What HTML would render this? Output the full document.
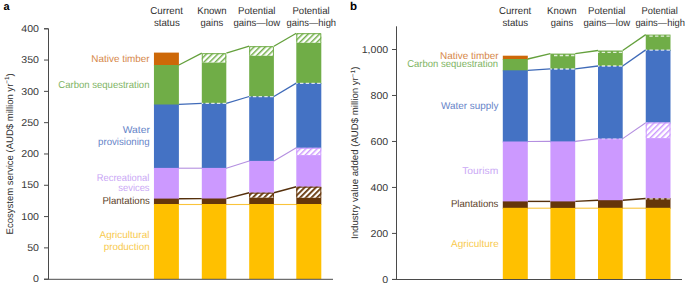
<!DOCTYPE html><html><head><meta charset="utf-8"><style>html,body{margin:0;padding:0;background:#fff;overflow:hidden}svg{display:block}text{font-family:"Liberation Sans",sans-serif;text-rendering:geometricPrecision}</style></head><body>
<svg width="685" height="285" viewBox="0 0 685 285">
<defs>
<pattern id="h1" patternUnits="userSpaceOnUse" width="4.0" height="4.0" patternTransform="rotate(45) translate(3.456,0)"><rect width="4.0" height="4.0" fill="#fff"/><rect width="1.45" height="4.0" fill="#70AD47"/></pattern>
<pattern id="h2" patternUnits="userSpaceOnUse" width="4.0" height="4.0" patternTransform="rotate(45) translate(0.094,0)"><rect width="4.0" height="4.0" fill="#fff"/><rect width="1.45" height="4.0" fill="#70AD47"/></pattern>
<pattern id="h3" patternUnits="userSpaceOnUse" width="4.0" height="4.0" patternTransform="rotate(45) translate(1.601,0)"><rect width="4.0" height="4.0" fill="#fff"/><rect width="1.8" height="4.0" fill="#66360A"/></pattern>
<pattern id="h4" patternUnits="userSpaceOnUse" width="4.0" height="4.0" patternTransform="rotate(45) translate(1.267,0)"><rect width="4.0" height="4.0" fill="#fff"/><rect width="1.45" height="4.0" fill="#70AD47"/></pattern>
<pattern id="h5" patternUnits="userSpaceOnUse" width="4.0" height="4.0" patternTransform="rotate(45) translate(0.746,0)"><rect width="4.0" height="4.0" fill="#fff"/><rect width="1.45" height="4.0" fill="#CC99FF"/></pattern>
<pattern id="h6" patternUnits="userSpaceOnUse" width="4.0" height="4.0" patternTransform="rotate(45) translate(3.017,0)"><rect width="4.0" height="4.0" fill="#fff"/><rect width="1.8" height="4.0" fill="#66360A"/></pattern>
<pattern id="h7" patternUnits="userSpaceOnUse" width="4.0" height="4.0" patternTransform="rotate(45) translate(0.677,0)"><rect width="4.0" height="4.0" fill="#fff"/><rect width="1.45" height="4.0" fill="#CC99FF"/></pattern>
</defs>
<rect width="685" height="285" fill="#fff"/>
<line x1="178.90" y1="204.5" x2="201.80" y2="204.5" stroke="#FAC43A" stroke-width="1.1"/>
<line x1="226.30" y1="204.5" x2="249.20" y2="204.5" stroke="#FAC43A" stroke-width="1.1"/>
<line x1="273.90" y1="204.5" x2="296.30" y2="204.5" stroke="#FAC43A" stroke-width="1.1"/>
<line x1="178.90" y1="198.7" x2="201.80" y2="198.6" stroke="#55300C" stroke-width="1.4"/>
<line x1="226.30" y1="198.6" x2="249.20" y2="192.8" stroke="#55300C" stroke-width="1.4"/>
<line x1="273.90" y1="192.8" x2="296.30" y2="186.8" stroke="#55300C" stroke-width="1.4"/>
<line x1="178.90" y1="168.2" x2="201.80" y2="168.2" stroke="#B48FE0" stroke-width="1.1"/>
<line x1="226.30" y1="168.2" x2="249.20" y2="161.0" stroke="#B48FE0" stroke-width="1.1"/>
<line x1="273.90" y1="161.0" x2="296.30" y2="147.8" stroke="#B48FE0" stroke-width="1.1"/>
<line x1="178.90" y1="104.4" x2="201.80" y2="103.3" stroke="#3F6AB8" stroke-width="1.3"/>
<line x1="226.30" y1="103.3" x2="249.20" y2="96.5" stroke="#3F6AB8" stroke-width="1.3"/>
<line x1="273.90" y1="96.5" x2="296.30" y2="83.1" stroke="#3F6AB8" stroke-width="1.3"/>
<line x1="178.90" y1="65.0" x2="201.80" y2="53.2" stroke="#64A03C" stroke-width="1.3"/>
<line x1="226.30" y1="53.2" x2="249.20" y2="46.2" stroke="#64A03C" stroke-width="1.3"/>
<line x1="273.90" y1="46.2" x2="296.30" y2="33.2" stroke="#64A03C" stroke-width="1.3"/>
<rect x="153.95" y="52.6" width="24.95" height="13.40" fill="#CD6808"/>
<rect x="153.95" y="65.0" width="24.95" height="40.50" fill="#70AD47"/>
<rect x="153.95" y="104.5" width="24.95" height="64.40" fill="#4472C4"/>
<rect x="153.95" y="167.9" width="24.95" height="31.70" fill="#CC99FF"/>
<rect x="153.95" y="198.6" width="24.95" height="6.40" fill="#66360A"/>
<rect x="153.95" y="204" width="24.95" height="75.00" fill="#FFC000"/>
<rect x="201.80" y="53.2" width="24.50" height="9.40" fill="url(#h1)"/>
<path d="M202.30 62.6 V53.7 H225.80 V62.6" fill="none" stroke="#70AD47" stroke-width="1"/>
<rect x="201.80" y="62.6" width="24.50" height="41.70" fill="#70AD47"/>
<rect x="201.80" y="103.3" width="24.50" height="65.60" fill="#4472C4"/>
<rect x="201.80" y="167.9" width="24.50" height="31.60" fill="#CC99FF"/>
<rect x="201.80" y="198.5" width="24.50" height="6.50" fill="#66360A"/>
<rect x="201.80" y="204" width="24.50" height="75.00" fill="#FFC000"/>
<rect x="249.20" y="46.2" width="24.70" height="9.60" fill="url(#h2)"/>
<path d="M249.70 55.8 V46.7 H273.40 V55.8" fill="none" stroke="#70AD47" stroke-width="1"/>
<rect x="249.20" y="55.8" width="24.70" height="41.70" fill="#70AD47"/>
<rect x="249.20" y="96.5" width="24.70" height="65.40" fill="#4472C4"/>
<rect x="249.20" y="160.9" width="24.70" height="32.80" fill="#CC99FF"/>
<rect x="249.20" y="192.7" width="24.70" height="5.00" fill="url(#h3)"/>
<path d="M249.70 197.7 V193.2 H273.40 V197.7" fill="none" stroke="#66360A" stroke-width="1"/>
<rect x="249.20" y="197.7" width="24.70" height="7.30" fill="#66360A"/>
<rect x="249.20" y="204" width="24.70" height="75.00" fill="#FFC000"/>
<rect x="296.30" y="33.2" width="25.00" height="9.60" fill="url(#h4)"/>
<path d="M296.80 42.8 V33.7 H320.80 V42.8" fill="none" stroke="#70AD47" stroke-width="1"/>
<rect x="296.30" y="42.8" width="25.00" height="41.30" fill="#70AD47"/>
<rect x="296.30" y="83.1" width="25.00" height="65.70" fill="#4472C4"/>
<rect x="296.30" y="147.8" width="25.00" height="7.30" fill="url(#h5)"/>
<path d="M296.80 155.1 V148.3 H320.80 V155.1" fill="none" stroke="#CC99FF" stroke-width="1"/>
<rect x="296.30" y="155.1" width="25.00" height="32.60" fill="#CC99FF"/>
<rect x="296.30" y="186.7" width="25.00" height="11.10" fill="url(#h6)"/>
<path d="M296.80 197.8 V187.2 H320.80 V197.8" fill="none" stroke="#66360A" stroke-width="1"/>
<rect x="296.30" y="197.8" width="25.00" height="7.20" fill="#66360A"/>
<rect x="296.30" y="204" width="25.00" height="75.00" fill="#FFC000"/>
<line x1="201.80" y1="103.4" x2="226.30" y2="103.4" stroke="#fff" stroke-width="1.3" stroke-dasharray="3.4 2.3" stroke-dashoffset="2.0" opacity="0.8"/>
<line x1="249.20" y1="96.6" x2="273.90" y2="96.6" stroke="#fff" stroke-width="1.3" stroke-dasharray="3.4 2.3" stroke-dashoffset="2.0" opacity="0.8"/>
<line x1="296.30" y1="83.3" x2="321.30" y2="83.3" stroke="#fff" stroke-width="1.3" stroke-dasharray="3.4 2.3" stroke-dashoffset="2.0" opacity="0.8"/>
<line x1="527.80" y1="208.2" x2="550.40" y2="208.2" stroke="#FAC43A" stroke-width="1.1"/>
<line x1="575.20" y1="208.2" x2="598.00" y2="208.2" stroke="#FAC43A" stroke-width="1.1"/>
<line x1="622.70" y1="208.2" x2="645.75" y2="208.2" stroke="#FAC43A" stroke-width="1.1"/>
<line x1="527.80" y1="201.4" x2="550.40" y2="201.4" stroke="#55300C" stroke-width="1.4"/>
<line x1="575.20" y1="201.4" x2="598.00" y2="200.2" stroke="#55300C" stroke-width="1.4"/>
<line x1="622.70" y1="200.2" x2="645.75" y2="198.5" stroke="#55300C" stroke-width="1.4"/>
<line x1="527.80" y1="141.5" x2="550.40" y2="141.4" stroke="#B48FE0" stroke-width="1.1"/>
<line x1="575.20" y1="141.4" x2="598.00" y2="138.6" stroke="#B48FE0" stroke-width="1.1"/>
<line x1="622.70" y1="138.6" x2="645.75" y2="122.7" stroke="#B48FE0" stroke-width="1.1"/>
<line x1="527.80" y1="70.4" x2="550.40" y2="68.8" stroke="#3F6AB8" stroke-width="1.3"/>
<line x1="575.20" y1="68.8" x2="598.00" y2="66.0" stroke="#3F6AB8" stroke-width="1.3"/>
<line x1="622.70" y1="66.0" x2="645.75" y2="49.9" stroke="#3F6AB8" stroke-width="1.3"/>
<line x1="527.80" y1="59.0" x2="550.40" y2="53.6" stroke="#64A03C" stroke-width="1.3"/>
<line x1="575.20" y1="53.6" x2="598.00" y2="50.5" stroke="#64A03C" stroke-width="1.3"/>
<line x1="622.70" y1="50.5" x2="645.75" y2="34.6" stroke="#64A03C" stroke-width="1.3"/>
<rect x="502.80" y="55.7" width="25.00" height="4.30" fill="#CD6808"/>
<rect x="502.80" y="59.0" width="25.00" height="12.30" fill="#70AD47"/>
<rect x="502.80" y="70.3" width="25.00" height="72.20" fill="#4472C4"/>
<rect x="502.80" y="141.5" width="25.00" height="60.90" fill="#CC99FF"/>
<rect x="502.80" y="201.4" width="25.00" height="7.40" fill="#66360A"/>
<rect x="502.80" y="207.8" width="25.00" height="71.60" fill="#FFC000"/>
<rect x="550.40" y="53.6" width="24.80" height="16.20" fill="#70AD47"/>
<rect x="550.40" y="68.8" width="24.80" height="73.60" fill="#4472C4"/>
<rect x="550.40" y="141.4" width="24.80" height="61.00" fill="#CC99FF"/>
<rect x="550.40" y="201.4" width="24.80" height="7.50" fill="#66360A"/>
<rect x="550.40" y="207.9" width="24.80" height="71.50" fill="#FFC000"/>
<rect x="598.00" y="50.5" width="24.70" height="16.50" fill="#70AD47"/>
<rect x="598.00" y="66.0" width="24.70" height="73.60" fill="#4472C4"/>
<rect x="598.00" y="138.6" width="24.70" height="62.60" fill="#CC99FF"/>
<rect x="598.00" y="200.2" width="24.70" height="8.60" fill="#66360A"/>
<rect x="598.00" y="207.8" width="24.70" height="71.60" fill="#FFC000"/>
<rect x="645.75" y="34.6" width="24.75" height="16.30" fill="#70AD47"/>
<rect x="645.75" y="49.9" width="24.75" height="73.60" fill="#4472C4"/>
<rect x="645.75" y="122.5" width="24.75" height="15.60" fill="url(#h7)"/>
<path d="M646.25 138.1 V123.0 H670.00 V138.1" fill="none" stroke="#CC99FF" stroke-width="1"/>
<rect x="645.75" y="138.1" width="24.75" height="61.10" fill="#CC99FF"/>
<rect x="645.75" y="198.2" width="24.75" height="10.60" fill="#66360A"/>
<rect x="645.75" y="207.8" width="24.75" height="71.60" fill="#FFC000"/>
<line x1="554.00" y1="55.5" x2="574.40" y2="55.5" stroke="#fff" stroke-width="1.3" stroke-dasharray="3.4 2.3" opacity="0.8"/>
<line x1="550.40" y1="69.0" x2="575.20" y2="69.0" stroke="#fff" stroke-width="1.3" stroke-dasharray="3.4 2.3" stroke-dashoffset="2.0" opacity="0.8"/>
<line x1="598.00" y1="52.4" x2="622.70" y2="52.4" stroke="#fff" stroke-width="1.3" stroke-dasharray="3.4 2.3" stroke-dashoffset="2.0" opacity="0.8"/>
<line x1="598.00" y1="66.0" x2="622.70" y2="66.0" stroke="#fff" stroke-width="1.3" stroke-dasharray="3.4 2.3" stroke-dashoffset="2.0" opacity="0.8"/>
<line x1="598.00" y1="138.8" x2="622.70" y2="138.8" stroke="#fff" stroke-width="1.3" stroke-dasharray="3.4 2.3" stroke-dashoffset="2.0" opacity="0.45"/>
<line x1="649.35" y1="36.2" x2="669.70" y2="36.2" stroke="#fff" stroke-width="1.3" stroke-dasharray="3.4 2.3" opacity="0.8"/>
<line x1="645.75" y1="50.2" x2="670.50" y2="50.2" stroke="#fff" stroke-width="1.3" stroke-dasharray="3.4 2.3" stroke-dashoffset="2.0" opacity="0.8"/>
<line x1="645.75" y1="198.9" x2="670.50" y2="198.9" stroke="#fff" stroke-width="1.3" stroke-dasharray="3.4 2.3" stroke-dashoffset="2.0" opacity="0.8"/>
<path d="M44 28.8 H48.5 V279.1 M44 279.3 H333" stroke="#4a4a4a" stroke-width="1" fill="none"/>
<line x1="44" y1="279.20" x2="48.5" y2="279.20" stroke="#4a4a4a" stroke-width="1"/>
<text transform="translate(39.0 282.40) scale(1.06 1)" text-anchor="end" font-size="10" fill="#383838">0</text>
<line x1="44" y1="247.89" x2="48.5" y2="247.89" stroke="#4a4a4a" stroke-width="1"/>
<text transform="translate(39.0 251.09) scale(1.06 1)" text-anchor="end" font-size="10" fill="#383838">50</text>
<line x1="44" y1="216.59" x2="48.5" y2="216.59" stroke="#4a4a4a" stroke-width="1"/>
<text transform="translate(39.0 219.79) scale(1.06 1)" text-anchor="end" font-size="10" fill="#383838">100</text>
<line x1="44" y1="185.28" x2="48.5" y2="185.28" stroke="#4a4a4a" stroke-width="1"/>
<text transform="translate(39.0 188.48) scale(1.06 1)" text-anchor="end" font-size="10" fill="#383838">150</text>
<line x1="44" y1="153.98" x2="48.5" y2="153.98" stroke="#4a4a4a" stroke-width="1"/>
<text transform="translate(39.0 157.18) scale(1.06 1)" text-anchor="end" font-size="10" fill="#383838">200</text>
<line x1="44" y1="122.67" x2="48.5" y2="122.67" stroke="#4a4a4a" stroke-width="1"/>
<text transform="translate(39.0 125.87) scale(1.06 1)" text-anchor="end" font-size="10" fill="#383838">250</text>
<line x1="44" y1="91.37" x2="48.5" y2="91.37" stroke="#4a4a4a" stroke-width="1"/>
<text transform="translate(39.0 94.57) scale(1.06 1)" text-anchor="end" font-size="10" fill="#383838">300</text>
<line x1="44" y1="60.06" x2="48.5" y2="60.06" stroke="#4a4a4a" stroke-width="1"/>
<text transform="translate(39.0 63.27) scale(1.06 1)" text-anchor="end" font-size="10" fill="#383838">350</text>
<line x1="44" y1="28.76" x2="48.5" y2="28.76" stroke="#4a4a4a" stroke-width="1"/>
<text transform="translate(39.0 31.96) scale(1.06 1)" text-anchor="end" font-size="10" fill="#383838">400</text>
<path d="M396.5 26.3 V279.4 M392 279.5 H682" stroke="#4a4a4a" stroke-width="1" fill="none"/>
<line x1="392" y1="279.40" x2="396.5" y2="279.40" stroke="#4a4a4a" stroke-width="1"/>
<text transform="translate(388.2 282.90) scale(1.06 1)" text-anchor="end" font-size="10" fill="#383838">0</text>
<line x1="392" y1="233.42" x2="396.5" y2="233.42" stroke="#4a4a4a" stroke-width="1"/>
<text transform="translate(388.2 236.92) scale(1.06 1)" text-anchor="end" font-size="10" fill="#383838">200</text>
<line x1="392" y1="187.44" x2="396.5" y2="187.44" stroke="#4a4a4a" stroke-width="1"/>
<text transform="translate(388.2 190.94) scale(1.06 1)" text-anchor="end" font-size="10" fill="#383838">400</text>
<line x1="392" y1="141.46" x2="396.5" y2="141.46" stroke="#4a4a4a" stroke-width="1"/>
<text transform="translate(388.2 144.96) scale(1.06 1)" text-anchor="end" font-size="10" fill="#383838">600</text>
<line x1="392" y1="95.48" x2="396.5" y2="95.48" stroke="#4a4a4a" stroke-width="1"/>
<text transform="translate(388.2 98.98) scale(1.06 1)" text-anchor="end" font-size="10" fill="#383838">800</text>
<line x1="392" y1="49.50" x2="396.5" y2="49.50" stroke="#4a4a4a" stroke-width="1"/>
<text transform="translate(388.2 53.00) scale(1.06 1)" text-anchor="end" font-size="10" fill="#383838">1,000</text>
<text x="3.4" y="9.6" font-size="11" font-weight="bold" fill="#000">a</text>
<text x="350" y="9.8" font-size="11.5" font-weight="bold" fill="#000">b</text>
<text class="t" x="150.23" y="13.7" font-size="10" textLength="32.65" lengthAdjust="spacingAndGlyphs" fill="#303030">Current</text>
<text class="t" x="153.89" y="25.9" font-size="10" textLength="25.91" lengthAdjust="spacingAndGlyphs" fill="#303030">status</text>
<text class="t" x="197.32" y="13.7" font-size="10" textLength="29.26" lengthAdjust="spacingAndGlyphs" fill="#303030">Known</text>
<text class="t" x="200.53" y="25.9" font-size="10" textLength="22.61" lengthAdjust="spacingAndGlyphs" fill="#303030">gains</text>
<text class="t" x="238.11" y="13.7" font-size="10" textLength="37.32" lengthAdjust="spacingAndGlyphs" fill="#303030">Potential</text>
<text class="t" x="233.52" y="25.9" font-size="10" textLength="46.62" lengthAdjust="spacingAndGlyphs" fill="#303030">gains—low</text>
<text class="t" x="292.41" y="13.7" font-size="10" textLength="37.30" lengthAdjust="spacingAndGlyphs" fill="#303030">Potential</text>
<text class="t" x="286.50" y="25.9" font-size="10" textLength="49.57" lengthAdjust="spacingAndGlyphs" fill="#303030">gains—high</text>
<text class="t" x="499.04" y="13.7" font-size="10" textLength="32.17" lengthAdjust="spacingAndGlyphs" fill="#303030">Current</text>
<text class="t" x="502.39" y="25.9" font-size="10" textLength="25.74" lengthAdjust="spacingAndGlyphs" fill="#303030">status</text>
<text class="t" x="547.12" y="13.7" font-size="10" textLength="29.46" lengthAdjust="spacingAndGlyphs" fill="#303030">Known</text>
<text class="t" x="550.73" y="25.9" font-size="10" textLength="22.34" lengthAdjust="spacingAndGlyphs" fill="#303030">gains</text>
<text class="t" x="588.11" y="13.7" font-size="10" textLength="37.32" lengthAdjust="spacingAndGlyphs" fill="#303030">Potential</text>
<text class="t" x="583.52" y="25.9" font-size="10" textLength="46.62" lengthAdjust="spacingAndGlyphs" fill="#303030">gains—low</text>
<text class="t" x="641.50" y="13.7" font-size="10" textLength="36.23" lengthAdjust="spacingAndGlyphs" fill="#303030">Potential</text>
<text class="t" x="635.38" y="25.9" font-size="10" textLength="49.52" lengthAdjust="spacingAndGlyphs" fill="#303030">gains—high</text>
<text class="t" x="91.36" y="62" font-size="10" textLength="58.31" lengthAdjust="spacingAndGlyphs" fill="#D6874A">Native timber</text>
<text class="t" x="58.31" y="87.6" font-size="10" textLength="91.19" lengthAdjust="spacingAndGlyphs" fill="#80B464">Carbon sequestration</text>
<text class="t" x="122.69" y="132.5" font-size="10" textLength="27.15" lengthAdjust="spacingAndGlyphs" fill="#6684C8">Water</text>
<text class="t" x="98.05" y="144.8" font-size="10" textLength="51.57" lengthAdjust="spacingAndGlyphs" fill="#6684C8">provisioning</text>
<text class="t" x="96.79" y="180.5" font-size="10" textLength="52.52" lengthAdjust="spacingAndGlyphs" fill="#CAA8F5">Recreational</text>
<text class="t" x="118.32" y="190.6" font-size="10" textLength="31.23" lengthAdjust="spacingAndGlyphs" fill="#CAA8F5">sevices</text>
<text class="t" x="102.40" y="203.7" font-size="10" textLength="47.43" lengthAdjust="spacingAndGlyphs" fill="#5B4128">Plantations</text>
<text class="t" x="99.61" y="238" font-size="10" textLength="49.78" lengthAdjust="spacingAndGlyphs" fill="#F8CA4E">Agricultural</text>
<text class="t" x="103.66" y="250" font-size="10" textLength="45.99" lengthAdjust="spacingAndGlyphs" fill="#F8CA4E">production</text>
<text class="t" x="439.98" y="58.8" font-size="10" textLength="58.61" lengthAdjust="spacingAndGlyphs" fill="#D6874A">Native timber</text>
<text class="t" x="407.19" y="67.2" font-size="10" textLength="90.93" lengthAdjust="spacingAndGlyphs" fill="#80B464">Carbon sequestration</text>
<text class="t" x="441.04" y="108.6" font-size="10" textLength="57.43" lengthAdjust="spacingAndGlyphs" fill="#6684C8">Water supply</text>
<text class="t" x="462.22" y="173.6" font-size="10" textLength="36.06" lengthAdjust="spacingAndGlyphs" fill="#CAA8F5">Tourism</text>
<text class="t" x="450.92" y="207.2" font-size="10" textLength="47.52" lengthAdjust="spacingAndGlyphs" fill="#5B4128">Plantations</text>
<text class="t" x="451.10" y="246.7" font-size="10" textLength="47.65" lengthAdjust="spacingAndGlyphs" fill="#F8CA4E">Agriculture</text>
<text transform="translate(12.7,234.41) rotate(-90)" font-size="9.6" textLength="161.13" lengthAdjust="spacingAndGlyphs" fill="#303030">Ecosystem service (AUD$ million yr<tspan dy="-3.3" font-size="6.4">−1</tspan><tspan dy="3.3">)</tspan></text>
<text transform="translate(357.9,238.95) rotate(-90)" font-size="9.6" textLength="172.32" lengthAdjust="spacingAndGlyphs" fill="#303030">Industry value added (AUD$ million yr<tspan dy="-3.3" font-size="6.4">−1</tspan><tspan dy="3.3">)</tspan></text>
</svg></body></html>
